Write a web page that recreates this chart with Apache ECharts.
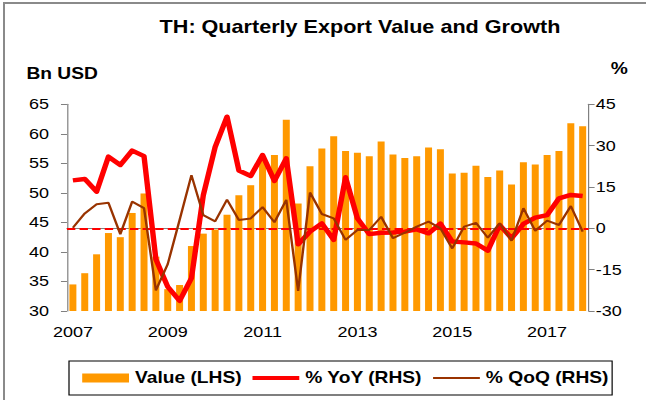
<!DOCTYPE html>
<html>
<head>
<meta charset="utf-8">
<script src="https://cdn.jsdelivr.net/npm/echarts@6/dist/echarts.min.js"></script>
<style>
  html, body { margin: 0; padding: 0; background: #fff; }
  .wrap { position: relative; width: 646px; height: 400px; overflow: hidden; }
  /* the reference is a stretched excel picture, so draw narrow and stretch */
  #chart { width: 538.33px; height: 400px; transform: scaleX(1.2); transform-origin: 0 0; }
  .frame { position: absolute; left: 3px; top: 2px; width: 700px; height: 500px;
           border-left: 2px solid #8a8a8a; border-top: 2px solid #8a8a8a; pointer-events: none; }
</style>
</head>
<body>
<div class="wrap">
  <div id="chart"></div>
  <div class="frame"></div>
</div>
<script>
var years = ['2007', '2008', '2009', '2010', '2011', '2012', '2013', '2014', '2015', '2016', '2017'];
var quarters = ['Q1', 'Q2', 'Q3', 'Q4'];

// Bn USD, 2007Q1 .. 2017Q4
var exportValue = [
  34.5, 36.4, 39.6, 43.2, 42.5, 46.6, 49.9, 39.2,
  33.7, 34.4, 41.0, 43.1, 43.8, 46.3, 49.6, 51.3,
  55.4, 56.4, 62.4, 48.2, 54.5, 57.5, 59.6, 57.1,
  56.8, 56.2, 58.7, 56.5, 55.9, 56.2, 57.7, 57.4,
  53.3, 53.4, 54.6, 52.7, 53.8, 51.4, 55.2, 54.8,
  56.4, 57.1, 61.8, 61.3
];
// % YoY
var yoy = [
  17.4, 17.9, 13.3, 26.0, 23.0, 28.2, 26.2, -11.2,
  -21.2, -26.3, -18.1, 12.0, 29.5, 40.5, 21.0, 19.0,
  26.6, 17.2, 25.4, -5.8, -1.2, 1.8, -4.2, 18.5,
  3.6, -2.1, -1.6, -1.5, -1.2, -0.4, -1.8, 1.7,
  -4.8, -5.1, -5.5, -8.1, 1.2, -3.6, 1.6, 3.9,
  4.8, 10.9, 12.1, 11.7
];
// % QoQ
var qoq = [
  0.2, 5.4, 8.7, 9.3, -2.1, 9.7, 7.3, -22.5,
  -13.0, 3.0, 19.3, 4.8, 2.5, 10.4, 3.0, 3.6,
  7.7, 2.2, 10.3, -22.7, 13.0, 5.2, 3.6, -4.2,
  -0.6, -0.6, 4.2, -3.6, -1.6, 0.6, 2.4, 0.0,
  -7.3, 0.6, 2.0, -3.4, 1.8, -4.5, 7.3, -0.9,
  2.8, 1.2, 8.1, -1.2
];

var categories = [];
years.forEach(function (y) {
  quarters.forEach(function (q) { categories.push(y + q); });
});

var font = "'Liberation Sans', Arial, sans-serif";
var axisGray = '#808080';

var chart = echarts.init(document.getElementById('chart'), null, { renderer: 'svg' });

chart.setOption({
  animation: false,
  backgroundColor: '#fff',
  textStyle: { fontFamily: font, color: '#000' },
  title: [
    {
      text: 'TH: Quarterly Export Value and Growth',
      left: 133, top: 18, padding: 0,
      textStyle: { fontSize: 18, fontWeight: 'bold', color: '#000', fontFamily: font }
    },
    {
      text: 'Bn USD',
      left: 22, top: 66, padding: 0,
      textStyle: { fontSize: 16, fontWeight: 'bold', color: '#000', fontFamily: font }
    },
    {
      text: '%',
      left: 509, top: 61, padding: 0,
      textStyle: { fontSize: 16, fontWeight: 'bold', color: '#000', fontFamily: font }
    }
  ],
  legend: {
    left: 57.5,
    top: 361,
    padding: [9, 3, 9, 11],
    itemGap: 9,
    itemWidth: 39,
    itemHeight: 9,
    symbolKeepAspect: true,
    borderColor: '#000',
    borderWidth: 1,
    textStyle: { fontSize: 16, fontWeight: 'bold', color: '#000', fontFamily: font },
    data: [
      { name: 'Value (LHS)', icon: 'rect' },
      { name: '% YoY (RHS)', icon: 'path://M0,0H39V4H0Z', itemStyle: { borderWidth: 0 } },
      { name: '% QoQ (RHS)', icon: 'path://M0,0H39V2H0Z', itemStyle: { borderWidth: 0 } }
    ]
  },
  grid: { left: 55.8, right: 47.5, top: 104.3, bottom: 89 },
  xAxis: {
    type: 'category',
    data: categories,
    boundaryGap: true,
    axisLine: { lineStyle: { color: axisGray, width: 1 } },
    axisTick: { interval: 3, length: 5, lineStyle: { color: axisGray } },
    axisLabel: {
      interval: 7,
      margin: 14,
      fontSize: 15,
      color: '#000',
      fontFamily: font,
      formatter: function (v) { return v.slice(0, 4); }
    },
    splitLine: { show: false }
  },
  yAxis: [
    {
      type: 'value',
      min: 30, max: 65, interval: 5,
      position: 'left',
      axisLine: { show: true, lineStyle: { color: axisGray, width: 1 } },
      axisTick: { show: true, length: 5, lineStyle: { color: axisGray } },
      axisLabel: { margin: 15, fontSize: 15, color: '#000', fontFamily: font },
      splitLine: { show: false }
    },
    {
      type: 'value',
      min: -30, max: 45, interval: 15,
      position: 'right',
      axisLine: { show: true, lineStyle: { color: axisGray, width: 1 } },
      axisTick: { show: true, length: 5, lineStyle: { color: axisGray } },
      axisLabel: { margin: 6, fontSize: 15, color: '#000', fontFamily: font },
      splitLine: { show: false }
    }
  ],
  series: [
    {
      name: 'Value (LHS)',
      type: 'bar',
      yAxisIndex: 0,
      data: exportValue,
      barWidth: '59%',
      z: 1,
      itemStyle: { color: '#FF9900' }
    },
    {
      name: '% YoY (RHS)',
      type: 'line',
      yAxisIndex: 1,
      data: yoy,
      symbol: 'none',
      z: 3,
      lineStyle: { color: '#FF0000', width: 4.5, join: 'round' },
      itemStyle: { color: '#FF0000' },
      markLine: {
        z: 2,
        silent: true,
        symbol: ['none', 'none'],
        label: { show: false },
        lineStyle: { color: '#FF0000', width: 2, type: [7, 3.5] },
        data: [{ yAxis: 0 }]
      }
    },
    {
      name: '% QoQ (RHS)',
      type: 'line',
      yAxisIndex: 1,
      data: qoq,
      symbol: 'none',
      z: 4,
      lineStyle: { color: '#993300', width: 2 },
      itemStyle: { color: '#993300' }
    }
  ]
});
</script>
</body>
</html>
